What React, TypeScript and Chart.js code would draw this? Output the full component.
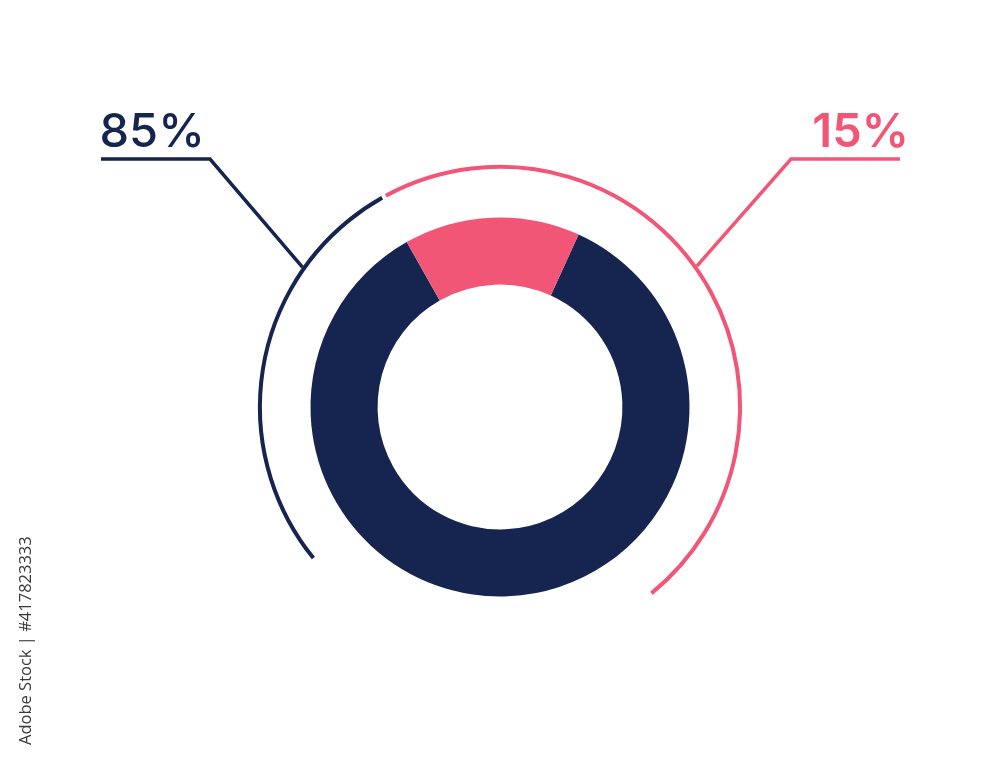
import React, { useEffect, useRef } from "react";
import { Chart, registerables } from "chart.js";

Chart.register(...registerables);

// ---- data ----
const categories = ["Navy", "Pink"];
const values = [85, 15];
const colors = ["#15254F", "#F15677"];
const creditText = "Adobe Stock | #417823333";

const NAVY = colors[0];
const PINK = colors[1];

const decorPlugin = {
  id: "decor",
  afterDatasetsDraw(chart: any) {
    const meta = chart.getDatasetMeta(0);
    const el = meta.data[0];
    if (!el) return;
    const { x: cx, y: cy, outerRadius } = el.getProps(["x", "y", "outerRadius"], true);
    const ctx: CanvasRenderingContext2D = chart.ctx;
    const R = outerRadius * 1.267;
    const rad = (d: number) => ((d - 90) * Math.PI) / 180;
    const pt = (d: number, r: number) => [cx + r * Math.cos(rad(d)), cy + r * Math.sin(rad(d))];

    ctx.save();
    // outer decorative arcs
    ctx.lineCap = "butt";
    ctx.lineWidth = 4;
    ctx.strokeStyle = NAVY;
    ctx.beginPath();
    ctx.arc(cx, cy, R, rad(231), rad(330.6));
    ctx.stroke();
    ctx.strokeStyle = PINK;
    ctx.beginPath();
    ctx.arc(cx, cy, R, rad(-28.4), rad(140.9));
    ctx.stroke();

    // leader lines
    ctx.lineWidth = 3.5;
    ctx.lineJoin = "miter";
    const [lx, ly] = pt(-54.7, R + 2);
    ctx.strokeStyle = NAVY;
    ctx.beginPath();
    ctx.moveTo(lx, ly);
    ctx.lineTo(cx - 290, cy - 248);
    ctx.lineTo(cx - 399, cy - 248);
    ctx.stroke();
    const [rx, ry] = pt(54.4, R + 2);
    ctx.strokeStyle = PINK;
    ctx.beginPath();
    ctx.moveTo(rx, ry);
    ctx.lineTo(cx + 291, cy - 248);
    ctx.lineTo(cx + 400, cy - 248);
    ctx.stroke();

    // labels
    ctx.textBaseline = "alphabetic";
    ctx.fillStyle = NAVY;
    ctx.textAlign = "left";
    ctx.font = "500 47px Inter, 'Noto Sans', sans-serif";
    ctx.fillText(`${values[0]}%`, cx - 400.5, cy - 260.5);
    ctx.fillStyle = PINK;
    ctx.textAlign = "right";
    ctx.font = "600 47px Inter, 'Noto Sans', sans-serif";
    ctx.fillText(`${values[1]}%`, cx + 409, cy - 260.5);

    // vertical credit text
    ctx.translate(31, 745);
    ctx.rotate(-Math.PI / 2);
    ctx.textAlign = "left";
    ctx.fillStyle = "#383838";
    ctx.font = "500 16.5px 'Open Sans', sans-serif";
    ctx.fillText(creditText, 0, 0);
    ctx.restore();
  },
};

export default function App() {
  const ref = useRef<HTMLCanvasElement | null>(null);
  useEffect(() => {
    if (!ref.current) return;
    const chart = new Chart(ref.current, {
      type: "doughnut",
      data: {
        labels: categories,
        datasets: [
          {
            data: values,
            backgroundColor: colors,
            borderWidth: 0,
            hoverOffset: 0,
          },
        ],
      },
      options: {
        responsive: false,
        animation: false,
        events: [],
        rotation: 24.5,
        cutout: "64.6%",
        layout: { padding: { top: 217.5, bottom: 170.5, left: 0, right: 0 } },
        plugins: {
          legend: { display: false },
          tooltip: { enabled: false },
        },
      },
      plugins: [decorPlugin],
    });
    return () => chart.destroy();
  }, []);

  return (
    <div style={{ position: "fixed", left: 0, top: 0, width: 1000, height: 767, background: "#fff" }}>
      <canvas ref={ref} width={1000} height={767} style={{ display: "block" }} />
    </div>
  );
}
